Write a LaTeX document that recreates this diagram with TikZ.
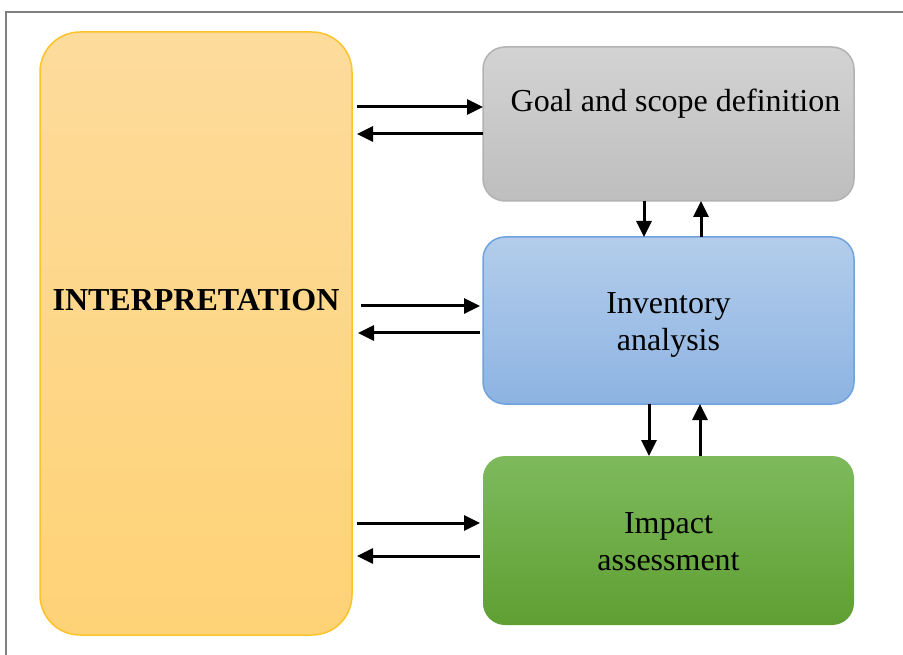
\documentclass[tikz,border=0pt]{standalone}
\usepackage{fontspec}
\setmainfont{Liberation Serif}
\usetikzlibrary{arrows.meta}

\definecolor{interpTop}{HTML}{FDDB9B}
\definecolor{interpBot}{HTML}{FED276}
\definecolor{interpLine}{HTML}{FDC32A}
\definecolor{goalTop}{HTML}{D3D3D3}
\definecolor{goalBot}{HTML}{BEBEBE}
\definecolor{goalLine}{HTML}{B2B2B2}
\definecolor{invTop}{HTML}{B3CDEB}
\definecolor{invBot}{HTML}{8DB3E2}
\definecolor{invLine}{HTML}{6EA3DE}
\definecolor{impTop}{HTML}{7EBA5D}
\definecolor{impBot}{HTML}{5F9F32}
\definecolor{frameGray}{HTML}{808080}

\tikzset{
    box/.style={rounded corners=22pt,inner sep=0pt,outer sep=0pt,line width=1.5pt,
        minimum width=371pt},
    boxtext/.style={align=center,font=\fontsize{32}{37}\selectfont},
    arr/.style={line width=3pt,-{Triangle[length=16pt,width=15pt]}},
}

\begin{document}
\begin{tikzpicture}[x=1pt,y=-1pt]
    \useasboundingbox (0,0) rectangle (903,655);
    \draw[frameGray,line width=2pt](6,655)--(6,12)--(903,12);

    \node[box,rounded corners=40pt,minimum width=312pt,minimum height=603pt,
        draw=interpLine,top color=interpTop,bottom color=interpBot,
        label={[boxtext,font=\fontsize{32}{37}\selectfont\bfseries,yshift=33pt]center:INTERPRETATION}]
        (interp) at (196,333.5) {};
    \node[box,minimum height=154pt,draw=goalLine,top color=goalTop,bottom color=goalBot,
        label={[boxtext,xshift=7pt,yshift=20pt]center:Goal and scope definition}]
        (goal) at (668.5,124) {};
    \node[box,minimum height=167pt,draw=invLine,top color=invTop,bottom color=invBot,
        label={[boxtext,yshift=-4pt]center:Inventory\\analysis}]
        (inv) at (668.5,320.5) {};
    \node[box,minimum height=169pt,top color=impTop,bottom color=impBot,
        label={[boxtext,yshift=-1pt]center:Impact\\assessment}]
        (imp) at (668.5,540.5) {};

    \draw[arr,shorten <=5pt](interp.east|-0,107)--(goal.west|-0,107);
    \draw[arr,shorten >=5pt](goal.west|-0,134)--(interp.east|-0,134);
    \draw[arr,shorten <=9pt,shorten >=3pt](interp.east|-0,306)--(inv.west|-0,306);
    \draw[arr,shorten >=6pt,shorten <=3pt](inv.west|-0,333)--(interp.east|-0,333);
    \draw[arr,shorten <=5pt,shorten >=3pt](interp.east|-0,523)--(imp.west|-0,523);
    \draw[arr,shorten >=5pt,shorten <=3pt](imp.west|-0,556)--(interp.east|-0,556);

    \draw[arr](goal.south-|644,0)--(inv.north-|644,0);
    \draw[arr](inv.north-|701,0)--(goal.south-|701,0);
    \draw[arr](inv.south-|649,0)--(imp.north-|649,0);
    \draw[arr](imp.north-|700,0)--(inv.south-|700,0);
\end{tikzpicture}
\end{document}
